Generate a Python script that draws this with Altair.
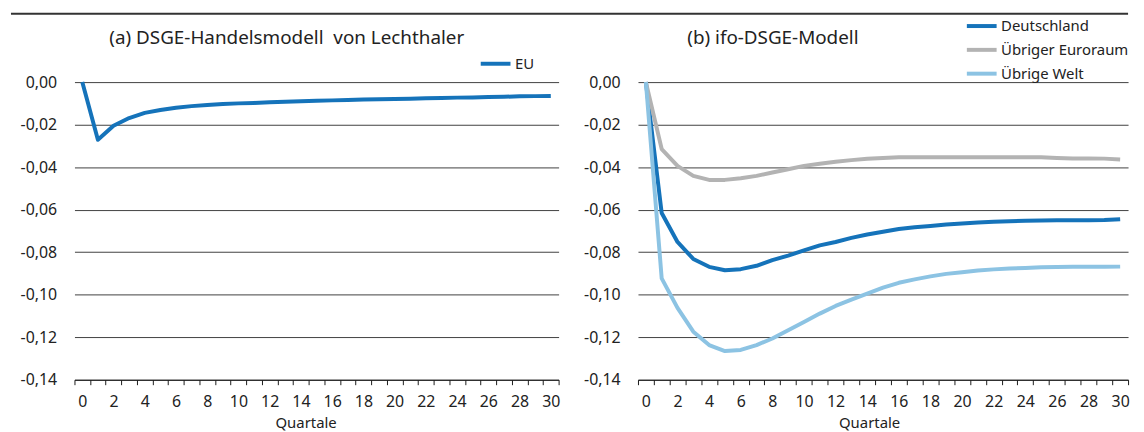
import altair as alt
import pandas as pd

FONT = "Noto Sans"

quarters = list(range(31))

eu = [0.0, -0.0271, -0.0205, -0.0169, -0.0145, -0.0131, -0.0121, -0.0113, -0.0108, -0.0103,
      -0.0100, -0.0098, -0.0095, -0.0092, -0.0090, -0.0088, -0.0086, -0.0084, -0.0082, -0.0081,
      -0.0079, -0.0078, -0.0076, -0.0075, -0.0073, -0.0072, -0.0070, -0.0069, -0.0067, -0.0066,
      -0.0065]

deutschland = [0.0, -0.0616, -0.0752, -0.0832, -0.0869, -0.0885, -0.0880, -0.0864, -0.0837, -0.0816,
               -0.0792, -0.0768, -0.0752, -0.0733, -0.0717, -0.0704, -0.0691, -0.0683, -0.0677, -0.0670,
               -0.0665, -0.0660, -0.0657, -0.0655, -0.0652, -0.0651, -0.0650, -0.0650, -0.0650, -0.0649,
               -0.0645]

euroraum = [0.0, -0.0315, -0.0394, -0.0441, -0.0460, -0.0460, -0.0452, -0.0441, -0.0425, -0.0410,
            -0.0394, -0.0384, -0.0375, -0.0367, -0.0361, -0.0357, -0.0354, -0.0354, -0.0354, -0.0354,
            -0.0354, -0.0354, -0.0354, -0.0354, -0.0354, -0.0354, -0.0357, -0.0359, -0.0359, -0.0360,
            -0.0364]

welt = [0.0, -0.0923, -0.1062, -0.1174, -0.1237, -0.1265, -0.1260, -0.1237, -0.1206, -0.1167,
        -0.1128, -0.1089, -0.1053, -0.1023, -0.0995, -0.0967, -0.0944, -0.0928, -0.0914, -0.0902,
        -0.0894, -0.0886, -0.0881, -0.0877, -0.0874, -0.0871, -0.0870, -0.0869, -0.0869, -0.0869,
        -0.0868]

left_series = ["EU"]
right_series = ["Deutschland", "Übriger Euroraum", "Übrige Welt"]
left_colors = ["#1573ba"]
right_colors = ["#1573ba", "#b3b3b3", "#8cc3e3"]

y_ticks = [0.0, -0.02, -0.04, -0.06, -0.08, -0.10, -0.12, -0.14]
x_tick_positions = [i - 0.5 for i in range(32)]

title_left = "(a) DSGE-Handelsmodell\u00a0 von Lechthaler"
title_right = "(b) ifo-DSGE-Modell"
x_title = "Quartale"

left_df = pd.DataFrame({"q": quarters, "value": eu, "series": "EU"})
right_df = pd.concat([
    pd.DataFrame({"q": quarters, "value": deutschland, "series": right_series[0]}),
    pd.DataFrame({"q": quarters, "value": euroraum, "series": right_series[1]}),
    pd.DataFrame({"q": quarters, "value": welt, "series": right_series[2]}),
])

TEXT = "#222222"
GRID = "#404040"

y_label_expr = "(datum.value < -0.00001 ? '-' : '') + replace(format(abs(datum.value), '.2f'), '.', ',')"
x_label_expr = "((datum.value + 0.5) % 2 == 0 && datum.value < 30) ? format(datum.value + 0.5, 'd') : ''"


def panel(df, series, colors, width, title, title_x, legend_x, legend_y, draw_rule):
    x_enc = alt.X(
        "q:Q",
        scale=alt.Scale(domain=[-0.5, 30.5], nice=False, zero=False),
        axis=alt.Axis(
            values=x_tick_positions, labelExpr=x_label_expr, labelOffset=width / 62,
            labelFlush=False, labelOverlap=False, grid=False,
            domainColor="#1a1a1a", domainWidth=1.2, tickColor="#1a1a1a", tickSize=5,
            labelPadding=9, labelFontSize=16, labelFont=FONT, labelColor=TEXT,
            title=x_title, titleFont=FONT, titleFontSize=15, titleFontWeight="normal",
            titleColor=TEXT, titlePadding=6, titleX=233,
        ),
    )
    y_enc = alt.Y(
        "value:Q",
        scale=alt.Scale(domain=[-0.14, 0.0], nice=False),
        axis=alt.Axis(
            values=y_ticks, labelExpr=y_label_expr, labelFlush=False, ticks=False,
            domain=False, grid=True, gridColor=GRID, gridWidth=1, labelPadding=18,
            labelFontSize=16, labelFont=FONT, labelColor=TEXT, title=None,
        ),
    )
    lines = alt.Chart(df).mark_line(strokeWidth=4, strokeJoin="round").encode(
        x=x_enc,
        y=y_enc,
        color=alt.Color(
            "series:N",
            scale=alt.Scale(domain=series, range=colors),
            legend=alt.Legend(
                orient="none", legendX=legend_x, legendY=legend_y, title=None,
                symbolType="M-1,0H5", symbolSize=100, symbolStrokeWidth=4,
                labelOffset=22, labelFontSize=15, labelFont=FONT, labelColor=TEXT,
                rowPadding=7, padding=0, labelLimit=300,
            ),
        ),
        order="q:Q",
    )
    ttl = alt.Chart(pd.DataFrame({"t": [title]})).mark_text(
        font=FONT, fontSize=19, color=TEXT, align="center", baseline="middle"
    ).encode(x=alt.value(title_x), y=alt.value(-44), text="t:N")
    layers = [lines, ttl]
    if draw_rule:
        rule = alt.Chart(pd.DataFrame({"r": [0]})).mark_rule(color="#333333", strokeWidth=2).encode(
            x=alt.value(-64), x2=alt.value(1062), y=alt.value(-69)
        )
        layers.append(rule)
    return alt.layer(*layers).properties(width=width, height=300)


left = panel(left_df, left_series, left_colors, 488, title_left, 214, 407, -26, True)
right = panel(right_df, right_series, right_colors, 494, title_right, 136, 329, -64, False)

chart = alt.hconcat(left, right, spacing=80, bounds="flush").resolve_scale(
    color="independent"
).resolve_legend(color="independent").configure_view(stroke=None).properties(
    padding={"left": 2, "top": 3, "right": 0, "bottom": 0}
)

chart.save("out.html", embed_options={"renderer": "svg", "actions": False})
